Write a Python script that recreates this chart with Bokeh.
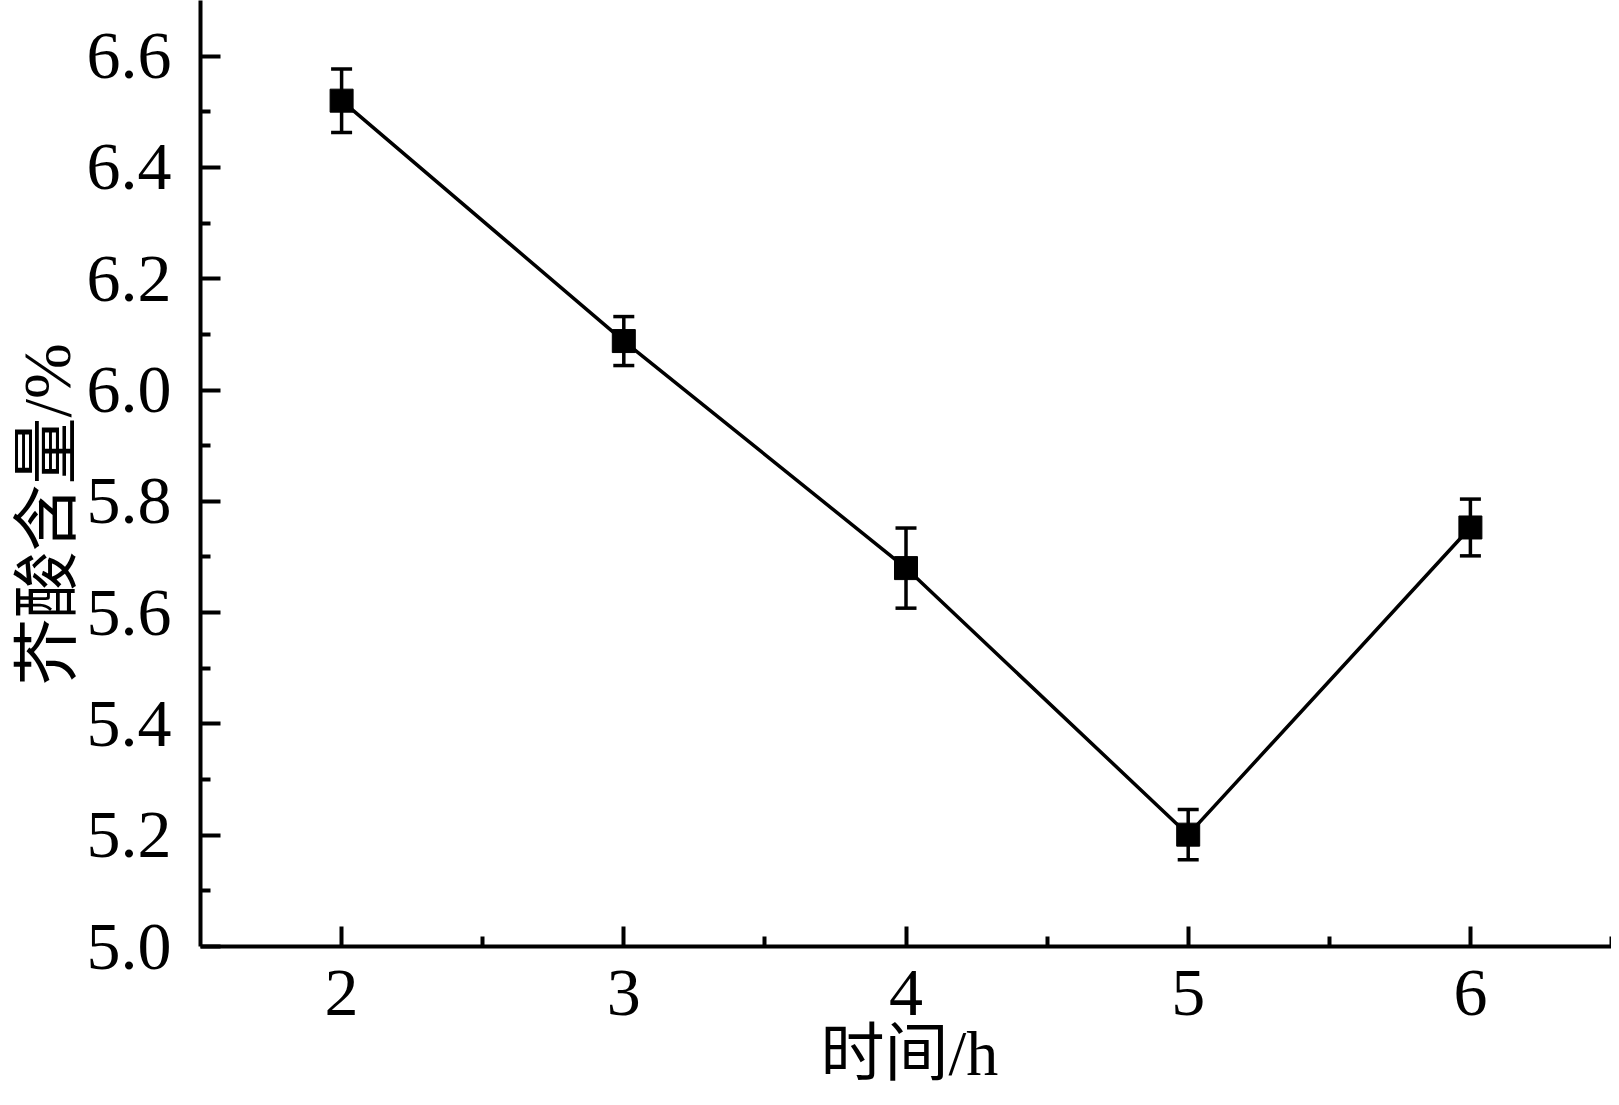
from bokeh.plotting import figure
from bokeh.models import ColumnDataSource, Whisker, TeeHead, FixedTicker, PrintfTickFormatter, Range1d, Title
from bokeh.embed import file_html
from bokeh.resources import INLINE

# Data
time_h = [2, 3, 4, 5, 6]
erucic_pct = [6.52, 6.088, 5.680, 5.201, 5.753]
err = [0.057, 0.044, 0.072, 0.045, 0.051]

x_ticks = [2, 3, 4, 5, 6]
x_minor = [2.5, 3.5, 4.5, 5.5, 6.5]
y_ticks = [5.0, 5.2, 5.4, 5.6, 5.8, 6.0, 6.2, 6.4, 6.6]
y_minor = [5.1, 5.3, 5.5, 5.7, 5.9, 6.1, 6.3, 6.5]

x_title = "时间/h"
y_title = "芥酸含量/%"

src = ColumnDataSource(dict(
    x=time_h, y=erucic_pct,
    upper=[v + e for v, e in zip(erucic_pct, err)],
    lower=[v - e for v, e in zip(erucic_pct, err)],
))

p = figure(width=1611, height=1097, output_backend="svg", toolbar_location=None,
           x_range=Range1d(1.5, 6.5), y_range=Range1d(5.0, 6.7),
           min_border_left=200, min_border_right=0, min_border_top=0, min_border_bottom=151)
p.outline_line_color = None
p.grid.visible = False
p.background_fill_color = "white"
p.border_fill_color = "white"

label_font = "Liberation Serif"
title_font = "Liberation Serif, Noto Sans CJK SC"

for ax in (p.xaxis[0], p.yaxis[0]):
    ax.axis_line_width = 4
    ax.axis_line_color = "black"
    ax.major_tick_line_width = 4
    ax.minor_tick_line_width = 4
    ax.major_tick_line_color = "black"
    ax.minor_tick_line_color = "black"
    ax.major_tick_in = 20
    ax.major_tick_out = 0
    ax.minor_tick_in = 10
    ax.minor_tick_out = 0
    ax.major_label_text_font = label_font
    ax.major_label_text_font_size = "68px"
    ax.major_label_text_color = "black"

p.xaxis.ticker = FixedTicker(ticks=x_ticks, minor_ticks=x_minor)
p.yaxis.ticker = FixedTicker(ticks=y_ticks, minor_ticks=y_minor)
p.xaxis.formatter = PrintfTickFormatter(format="%d")
p.yaxis.formatter = PrintfTickFormatter(format="%.1f")
p.xaxis.major_label_standoff = 24
p.yaxis.major_label_standoff = 29

# Axis titles as side titles so their offsets along the axes can match the reference
p.add_layout(Title(text=x_title, align="left", offset=620, vertical_align="top", standoff=0,
                   text_font=title_font, text_font_size="64px", text_font_style="normal",
                   text_color="black"), "below")
p.add_layout(Title(text=y_title, align="left", offset=261, vertical_align="bottom", standoff=0,
                   text_font=title_font, text_font_size="67px", text_font_style="normal",
                   text_color="black"), "left")

p.line("x", "y", source=src, line_color="black", line_width=3.5)
wh = Whisker(source=src, base="x", upper="upper", lower="lower",
             line_color="black", line_width=3.5,
             upper_head=TeeHead(size=21, line_width=3.5, line_color="black"),
             lower_head=TeeHead(size=21, line_width=3.5, line_color="black"))
p.add_layout(wh)
p.scatter("x", "y", source=src, marker="square", size=23, fill_color="black", line_color="black")

open("out.html", "w").write(file_html(p, INLINE))
